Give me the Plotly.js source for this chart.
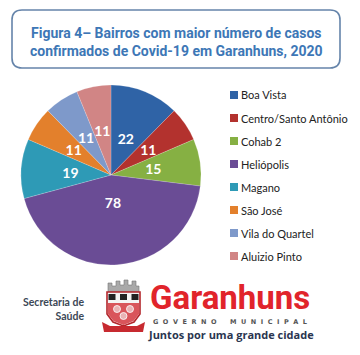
<!DOCTYPE html>
<html><head><meta charset="utf-8">
<script src="https://cdn.plot.ly/plotly-3.0.1.min.js"></script>
<style>html,body{margin:0;padding:0;background:#fff;}#c{width:360px;height:355px;}</style>
</head><body><div id="c"></div>
<script>
const bairros = ["Boa Vista","Centro/Santo Antônio","Cohab 2","Heliópolis","Magano","São José","Vila do Quartel","Aluizio Pinto"];
const casos = [22, 11, 15, 78, 19, 11, 11, 11];
const cores = ["#2F63A6","#B3322E","#86B043","#6A4C95","#2E9AB6","#E3802C","#7E99CA","#D18585"];
const titulo = "Figura 4– Bairros com maior número de casos<br>confirmados de Covid-19 em Garanhuns, 2020";

const W = 360, H = 355;
const px = x => x / W, py = y => 1 - y / H;
const NB = '\u00a0';

const shapes = [];
const annotations = [];

// rounded title box
(function(){
  const x0=12,x1=340,y0=10,y1=68,r=10;
  const X=v=>px(v), Y=v=>py(v);
  shapes.push({type:'path', xref:'paper', yref:'paper',
    path:`M ${X(x0+r)},${Y(y0)} L ${X(x1-r)},${Y(y0)} Q ${X(x1)},${Y(y0)} ${X(x1)},${Y(y0+r)} L ${X(x1)},${Y(y1-r)} Q ${X(x1)},${Y(y1)} ${X(x1-r)},${Y(y1)} L ${X(x0+r)},${Y(y1)} Q ${X(x0)},${Y(y1)} ${X(x0)},${Y(y1-r)} L ${X(x0)},${Y(y0+r)} Q ${X(x0)},${Y(y0)} ${X(x0+r)},${Y(y0)} Z`,
    line:{color:'#6584AA', width:1.6}, fillcolor:'rgba(0,0,0,0)'});
})();
annotations.push({xref:'paper', yref:'paper', x:px(176), y:py(42), xanchor:'center', yanchor:'middle',
  text:'<b>'+titulo+'</b>', showarrow:false, align:'center',
  font:{family:'Roboto, sans-serif', size:14, color:'#3D77B6'}});

// legend (built from the data arrays)
bairros.forEach((b,i)=>{
  const yc = 95 + i*23;
  shapes.push({type:'rect', xref:'paper', yref:'paper', x0:px(230), x1:px(238), y0:py(yc+4), y1:py(yc-4),
    fillcolor:cores[i], line:{width:0}});
  annotations.push({xref:'paper', yref:'paper', x:px(239), y:py(yc), xanchor:'left', yanchor:'middle',
    text:b, showarrow:false, font:{family:'Lato, sans-serif', size:11, color:'#222'}});
});

// footer
annotations.push({xref:'paper', yref:'paper', x:px(86), y:py(309), xanchor:'right', yanchor:'middle',
  text:'<b>Secretaria de<br>Saúde</b>', showarrow:false, align:'right',
  font:{family:'Lato, sans-serif', size:10.5, color:'#3C4856'}});
annotations.push({xref:'paper', yref:'paper', x:px(230), y:py(297), xanchor:'center', yanchor:'middle',
  text:'<b>Garanhuns</b>', showarrow:false,
  font:{family:'Roboto, sans-serif', size:33, color:'#E1242B'}});
const gov = 'GOVERNO'.split('').join(NB+NB) + NB.repeat(6) + 'MUNICIPAL'.split('').join(NB+NB);
annotations.push({xref:'paper', yref:'paper', x:px(230), y:py(322), xanchor:'center', yanchor:'middle',
  text:'<b>'+gov+'</b>', showarrow:false,
  font:{family:'DejaVu Sans, sans-serif', size:6.5, color:'#555'}});
annotations.push({xref:'paper', yref:'paper', x:px(231), y:py(334), xanchor:'center', yanchor:'middle',
  text:'<b>Juntos por uma grande cidade</b>', showarrow:false,
  font:{family:'Open Sans, sans-serif', size:11, color:'#2A3550'}});

// coat of arms (decoration)
const P = (pts)=> 'M ' + pts.map(p=>px(p[0])+','+py(p[1])).join(' L ') + ' Z';
shapes.push({type:'path', xref:'paper', yref:'paper', path:P([[108,292],[108,283],[112,283],[112,286],[116,286],[116,281],[120,281],[120,285],[124,285],[124,280],[128,280],[128,285],[132,285],[132,281],[136,281],[136,286],[139,286],[139,292]]),
  fillcolor:'#A9A9A9', line:{color:'#777', width:0.6}});
shapes.push({type:'path', xref:'paper', yref:'paper', path:P([[107,292],[140,292],[140,314],[134,322],[123.5,326],[113,322],[107,314]]),
  fillcolor:'#F4F4F4', line:{color:'#B3262B', width:1.6}});
shapes.push({type:'path', xref:'paper', yref:'paper', path:P([[108,303],[139,303],[139,314],[133.5,321],[123.5,325],[113.5,321],[108,314]]),
  fillcolor:'#D9555B', line:{width:0}});
[[112,297],[123.5,297],[135,297]].forEach(c=>{
  shapes.push({type:'rect', xref:'paper', yref:'paper', x0:px(c[0]-3.5), x1:px(c[0]+3.5), y0:py(c[1]+3), y1:py(c[1]-3), fillcolor:'#222', line:{width:0}});
});
[[117,309],[130,309],[123.5,316]].forEach(c=>{
  shapes.push({type:'circle', xref:'paper', yref:'paper', x0:px(c[0]-3.5), x1:px(c[0]+3.5), y0:py(c[1]+3.5), y1:py(c[1]-3.5), fillcolor:'#E9B3B5', line:{color:'#fff', width:0.8}});
});
shapes.push({type:'path', xref:'paper', yref:'paper', path:P([[102,322],[110,326],[137,326],[145,322],[143,332],[104,332]]),
  fillcolor:'#C72A30', line:{width:0}});

const cx = 111, cy = 175, R = 90, Rt = 54;
const data = [{
  type:'pie', labels:bairros, values:casos, sort:false, direction:'clockwise', rotation:0,
  marker:{colors:cores, line:{color:'rgba(255,255,255,0.35)', width:0.5}},
  textinfo:'none', hoverinfo:'label+value',
  domain:{x:[px(cx-R), px(cx+R)], y:[py(cy+R), py(cy-R)]},
  showlegend:false
},{
  // transparent copy that only carries the value labels closer to the centre
  type:'pie', labels:bairros, values:casos, sort:false, direction:'clockwise', rotation:0,
  marker:{colors:bairros.map(()=> 'rgba(0,0,0,0)'), line:{width:0}},
  textinfo:'value', textposition:'inside', insidetextorientation:'horizontal',
  textfont:{family:'Lato, sans-serif', size:14, color:'#fff', weight:'bold'},
  hoverinfo:'skip',
  domain:{x:[px(cx-Rt), px(cx+Rt)], y:[py(cy+Rt), py(cy-Rt)]},
  showlegend:false
}];

const layout = {
  width:W, height:H, margin:{l:0,r:0,t:0,b:0},
  paper_bgcolor:'#fff', plot_bgcolor:'#fff',
  uniformtext:{mode:'show', minsize:14},
  showlegend:false, shapes, annotations
};
Plotly.newPlot('c', data, layout, {displayModeBar:false, staticPlot:true});
</script></body></html>
